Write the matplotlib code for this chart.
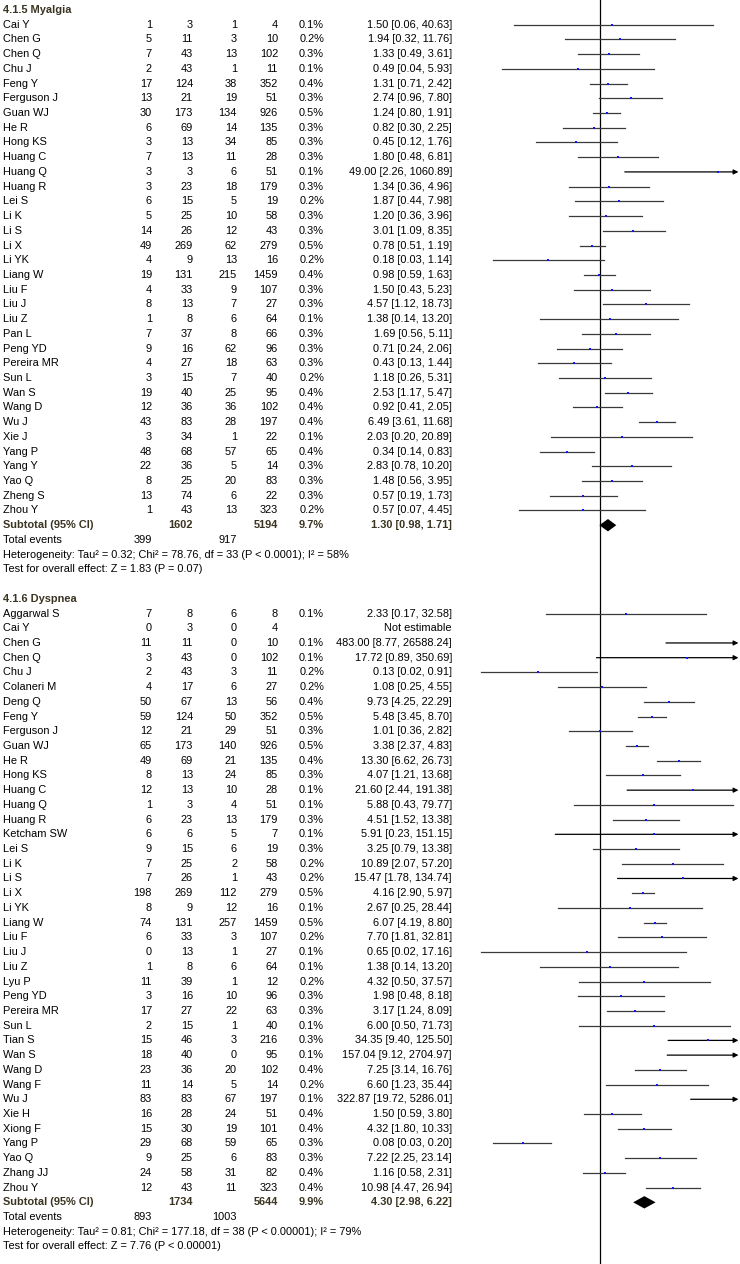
import numpy as np
import matplotlib
matplotlib.use('Agg')
import matplotlib.pyplot as plt

plt.rcParams['font.family'] = ['Liberation Sans', 'DejaVu Sans']

# 4.1.5 Myalgia
mya_names = ["Cai Y", "Chen G", "Chen Q", "Chu J", "Feng Y", "Ferguson J", "Guan WJ", "He R",
             "Hong KS", "Huang C", "Huang Q", "Huang R", "Lei S", "Li K", "Li S", "Li X", "Li YK",
             "Liang W", "Liu F", "Liu J", "Liu Z", "Pan L", "Peng YD", "Pereira MR", "Sun L",
             "Wan S", "Wang D", "Wu J", "Xie J", "Yang P", "Yang Y", "Yao Q", "Zheng S", "Zhou Y"]
mya_e1 = [1, 5, 7, 2, 17, 13, 30, 6, 3, 7, 3, 3, 6, 5, 14, 49, 4, 19, 4, 8, 1, 7, 9, 4, 3, 19, 12, 43, 3, 48, 22, 8, 13, 1]
mya_n1 = [3, 11, 43, 43, 124, 21, 173, 69, 13, 13, 3, 23, 15, 25, 26, 269, 9, 131, 33, 13, 8, 37, 16, 27, 15, 40, 36, 83, 34, 68, 36, 25, 74, 43]
mya_e2 = [1, 3, 13, 1, 38, 19, 134, 14, 34, 11, 6, 18, 5, 10, 12, 62, 13, 215, 9, 7, 6, 8, 62, 18, 7, 25, 36, 28, 1, 57, 5, 20, 6, 13]
mya_n2 = [4, 10, 102, 11, 352, 51, 926, 135, 85, 28, 51, 179, 19, 58, 43, 279, 16, 1459, 107, 27, 64, 66, 96, 63, 40, 95, 102, 197, 22, 65, 14, 83, 22, 323]
mya_wt = [0.1, 0.2, 0.3, 0.1, 0.4, 0.3, 0.5, 0.3, 0.3, 0.3, 0.1, 0.3, 0.2, 0.3, 0.3, 0.5, 0.2, 0.4, 0.3, 0.3, 0.1, 0.3, 0.3, 0.3, 0.2, 0.4, 0.4, 0.4, 0.1, 0.4, 0.3, 0.3, 0.3, 0.2]
mya_or = [1.50, 1.94, 1.33, 0.49, 1.31, 2.74, 1.24, 0.82, 0.45, 1.80, 49.00, 1.34, 1.87, 1.20, 3.01, 0.78, 0.18,
          0.98, 1.50, 4.57, 1.38, 1.69, 0.71, 0.43, 1.18, 2.53, 0.92, 6.49, 2.03, 0.34, 2.83, 1.48, 0.57, 0.57]
mya_lo = [0.06, 0.32, 0.49, 0.04, 0.71, 0.96, 0.80, 0.30, 0.12, 0.48, 2.26, 0.36, 0.44, 0.36, 1.09, 0.51, 0.03,
          0.59, 0.43, 1.12, 0.14, 0.56, 0.24, 0.13, 0.26, 1.17, 0.41, 3.61, 0.20, 0.14, 0.78, 0.56, 0.19, 0.07]
mya_hi = [40.63, 11.76, 3.61, 5.93, 2.42, 7.80, 1.91, 2.25, 1.76, 6.81, 1060.89, 4.96, 7.98, 3.96, 8.35, 1.19, 1.14,
          1.63, 5.23, 18.73, 13.20, 5.11, 2.06, 1.44, 5.31, 5.47, 2.05, 11.68, 20.89, 0.83, 10.20, 3.95, 1.73, 4.45]
mya_total = (1602, 5194, 9.7, 1.30, 0.98, 1.71)
mya_events = (399, 917)
mya_het = "Heterogeneity: Tau\u00b2 = 0.32; Chi\u00b2 = 78.76, df = 33 (P < 0.0001); I\u00b2 = 58%"
mya_test = "Test for overall effect: Z = 1.83 (P = 0.07)"

# 4.1.6 Dyspnea  (None = not estimable)
dys_names = ["Aggarwal S", "Cai Y", "Chen G", "Chen Q", "Chu J", "Colaneri M", "Deng Q", "Feng Y",
             "Ferguson J", "Guan WJ", "He R", "Hong KS", "Huang C", "Huang Q", "Huang R", "Ketcham SW",
             "Lei S", "Li K", "Li S", "Li X", "Li YK", "Liang W", "Liu F", "Liu J", "Liu Z", "Lyu P",
             "Peng YD", "Pereira MR", "Sun L", "Tian S", "Wan S", "Wang D", "Wang F", "Wu J", "Xie H",
             "Xiong F", "Yang P", "Yao Q", "Zhang JJ", "Zhou Y"]
dys_e1 = [7, 0, 11, 3, 2, 4, 50, 59, 12, 65, 49, 8, 12, 1, 6, 6, 9, 7, 7, 198, 8, 74, 6, 0, 1, 11, 3, 17, 2, 15, 18, 23, 11, 83, 16, 15, 29, 9, 24, 12]
dys_n1 = [8, 3, 11, 43, 43, 17, 67, 124, 21, 173, 69, 13, 13, 3, 23, 6, 15, 25, 26, 269, 9, 131, 33, 13, 8, 39, 16, 27, 15, 46, 40, 36, 14, 83, 28, 30, 68, 25, 58, 43]
dys_e2 = [6, 0, 0, 0, 3, 6, 13, 50, 29, 140, 21, 24, 10, 4, 13, 5, 6, 2, 1, 112, 12, 257, 3, 1, 6, 1, 10, 22, 1, 3, 0, 20, 5, 67, 24, 19, 59, 6, 31, 11]
dys_n2 = [8, 4, 10, 102, 11, 27, 56, 352, 51, 926, 135, 85, 28, 51, 179, 7, 19, 58, 43, 279, 16, 1459, 107, 27, 64, 12, 96, 63, 40, 216, 95, 102, 14, 197, 51, 101, 65, 83, 82, 323]
dys_wt = [0.1, None, 0.1, 0.1, 0.2, 0.2, 0.4, 0.5, 0.3, 0.5, 0.4, 0.3, 0.1, 0.1, 0.3, 0.1, 0.3, 0.2, 0.2, 0.5,
          0.1, 0.5, 0.2, 0.1, 0.1, 0.2, 0.3, 0.3, 0.1, 0.3, 0.1, 0.4, 0.2, 0.1, 0.4, 0.4, 0.3, 0.3, 0.4, 0.4]
dys_or = [2.33, None, 483.00, 17.72, 0.13, 1.08, 9.73, 5.48, 1.01, 3.38, 13.30, 4.07, 21.60, 5.88, 4.51, 5.91,
          3.25, 10.89, 15.47, 4.16, 2.67, 6.07, 7.70, 0.65, 1.38, 4.32, 1.98, 3.17, 6.00, 34.35, 157.04, 7.25,
          6.60, 322.87, 1.50, 4.32, 0.08, 7.22, 1.16, 10.98]
dys_lo = [0.17, None, 8.77, 0.89, 0.02, 0.25, 4.25, 3.45, 0.36, 2.37, 6.62, 1.21, 2.44, 0.43, 1.52, 0.23,
          0.79, 2.07, 1.78, 2.90, 0.25, 4.19, 1.81, 0.02, 0.14, 0.50, 0.48, 1.24, 0.50, 9.40, 9.12, 3.14,
          1.23, 19.72, 0.59, 1.80, 0.03, 2.25, 0.58, 4.47]
dys_hi = [32.58, None, 26588.24, 350.69, 0.91, 4.55, 22.29, 8.70, 2.82, 4.83, 26.73, 13.68, 191.38, 79.77, 13.38,
          151.15, 13.38, 57.20, 134.74, 5.97, 28.44, 8.80, 32.81, 17.16, 13.20, 37.57, 8.18, 8.09, 71.73, 125.50,
          2704.97, 16.76, 35.44, 5286.01, 3.80, 10.33, 0.20, 23.14, 2.31, 26.94]
dys_total = (1734, 5644, 9.9, 4.30, 2.98, 6.22)
dys_events = (893, 1003)
dys_het = "Heterogeneity: Tau\u00b2 = 0.81; Chi\u00b2 = 177.18, df = 38 (P < 0.00001); I\u00b2 = 79%"
dys_test = "Test for overall effect: Z = 7.76 (P < 0.00001)"

# layout in pixels
ROW_H = 14.72
FS = 7.9
HEAD_COL = '#3b3422'
COL_X = [152, 193, 237, 278, 324, 452]   # right edges of the number columns
X_MIN, X_MAX = 0.01, 100
TIP = 95   # where the arrow head stops


def put(ax, x, row, s, ha='right', bold=False, color='black'):
    ax.text(x, row, s, ha=ha, va='center', fontsize=FS,
            fontweight='bold' if bold else 'normal', color=color)


def draw_group(ax_t, ax_f, row0, title, names, e1, n1, e2, n2, wt, est, lo, hi,
               total, events, het, test):
    put(ax_t, 3, row0, title, ha='left', bold=True, color=HEAD_COL)
    for i, name in enumerate(names):
        r = row0 + 1 + i
        put(ax_t, 3, r, name, ha='left')
        for x, v in zip(COL_X[:4], (e1[i], n1[i], e2[i], n2[i])):
            put(ax_t, x, r, str(v))
        if est[i] is None:
            put(ax_t, COL_X[5], r, "Not estimable")
            continue
        put(ax_t, COL_X[4], r, f"{wt[i]:.1f}%")
        put(ax_t, COL_X[5], r, f"{est[i]:.2f} [{lo[i]:.2f}, {hi[i]:.2f}]")

        # confidence interval, arrow if it runs off the right edge
        if hi[i] > X_MAX:
            ax_f.annotate('', xy=(TIP, r), xytext=(lo[i], r),
                          arrowprops=dict(arrowstyle='-|>', color='black', lw=0.9,
                                          mutation_scale=7, shrinkA=0, shrinkB=0))
        else:
            ax_f.plot([lo[i], hi[i]], [r, r], color='#3a3a3a', lw=0.9)
        if est[i] < X_MAX:
            ax_f.plot(est[i], r, 's', color='#1515ee', ms=1.7 + 0.6 * wt[i], mew=0, zorder=3)

    r = row0 + 1 + len(names)
    put(ax_t, 3, r, "Subtotal (95% CI)", ha='left', bold=True, color=HEAD_COL)
    put(ax_t, COL_X[1], r, str(total[0]), bold=True, color=HEAD_COL)
    put(ax_t, COL_X[3], r, str(total[1]), bold=True, color=HEAD_COL)
    put(ax_t, COL_X[4], r, f"{total[2]:.1f}%", bold=True, color=HEAD_COL)
    put(ax_t, COL_X[5], r, f"{total[3]:.2f} [{total[4]:.2f}, {total[5]:.2f}]", bold=True, color=HEAD_COL)
    ax_f.fill([total[4], total[3], total[5], total[3]], [r, r - 0.42, r, r + 0.42],
              color='black', lw=0)

    put(ax_t, 3, r + 1, "Total events", ha='left')
    put(ax_t, COL_X[0], r + 1, str(events[0]))
    put(ax_t, COL_X[2], r + 1, str(events[1]))
    put(ax_t, 3, r + 2, het, ha='left')
    put(ax_t, 3, r + 3, test, ha='left')
    return r + 5


fig = plt.figure(figsize=(7.4, 12.64), dpi=100)
y_top = -10 / ROW_H
y_bot = (1264 - 10) / ROW_H

ax_tab = fig.add_axes([0, 0, 1, 1])
ax_tab.set_xlim(0, 740)
ax_tab.set_ylim(y_bot, y_top)
ax_tab.axis('off')

ax_fp = fig.add_axes([460 / 740, 0, 280 / 740, 1])
ax_fp.set_xscale('log')
ax_fp.set_xlim(X_MIN, X_MAX)
ax_fp.set_ylim(y_bot, y_top)
ax_fp.axis('off')
ax_fp.patch.set_alpha(0)
ax_fp.axvline(1, color='black', lw=0.9)

nxt = draw_group(ax_tab, ax_fp, 0, "4.1.5 Myalgia", mya_names, mya_e1, mya_n1, mya_e2, mya_n2,
                 mya_wt, mya_or, mya_lo, mya_hi, mya_total, mya_events, mya_het, mya_test)
draw_group(ax_tab, ax_fp, nxt, "4.1.6 Dyspnea", dys_names, dys_e1, dys_n1, dys_e2, dys_n2,
           dys_wt, dys_or, dys_lo, dys_hi, dys_total, dys_events, dys_het, dys_test)

fig.savefig('out.png', dpi=100)
